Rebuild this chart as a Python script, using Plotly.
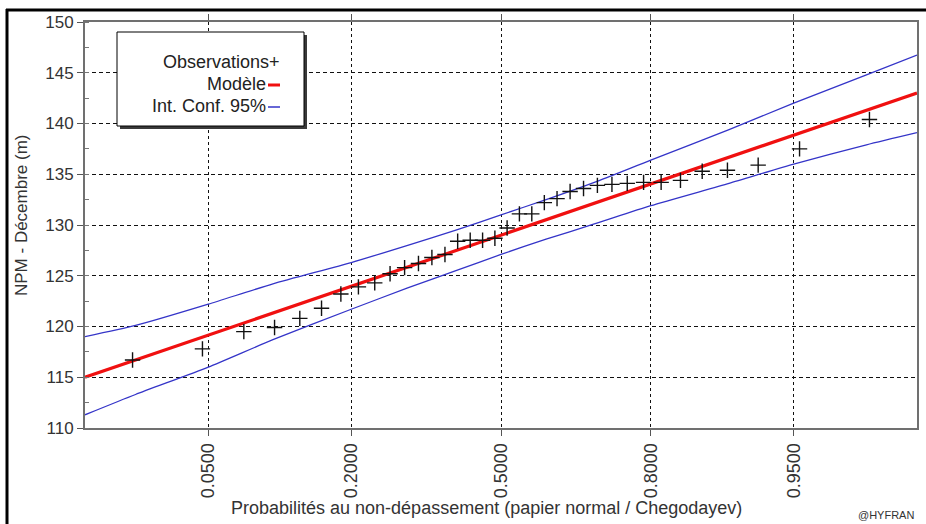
import plotly.graph_objects as go
from statistics import NormalDist

_nd = NormalDist()


def probit(p):
    return _nd.inv_cdf(p)


# ---------------- data ----------------
obs_prob = [0.0192, 0.0467, 0.0742, 0.1016, 0.1291, 0.1566, 0.1841, 0.2115, 0.2390,
            0.2665, 0.2940, 0.3214, 0.3489, 0.3764, 0.4038, 0.4313, 0.4588, 0.4863,
            0.5137, 0.5412, 0.5687, 0.5962, 0.6236, 0.6511, 0.6786, 0.7060, 0.7335,
            0.7610, 0.7885, 0.8159, 0.8434, 0.8709, 0.8984, 0.9258, 0.9533, 0.9808]
obs_npm = [116.7, 117.8, 119.5, 119.9, 120.8, 121.8, 123.2, 123.9, 124.3,
           125.2, 125.8, 126.2, 126.8, 127.1, 128.4, 128.5, 128.5, 128.7,
           129.7, 131.1, 131.1, 132.2, 132.6, 133.3, 133.6, 133.9, 134.0,
           134.1, 134.2, 134.2, 134.4, 135.3, 135.4, 135.9, 137.5, 140.4]

model_prob = [0.0097, 0.5, 0.9903]
model_npm = [115.0, 129.0, 143.0]

ci_prob = [0.0097, 0.02, 0.05, 0.1, 0.2, 0.3, 0.4, 0.5, 0.6, 0.7, 0.8, 0.9, 0.95, 0.98, 0.9903]
ci_upper = [119.0, 120.1, 122.2, 124.2, 126.3, 128.0, 129.5, 131.0, 132.5, 134.2, 136.4, 139.4, 142.0, 144.8, 146.75]
ci_lower = [111.3, 113.3, 116.0, 118.7, 121.7, 123.8, 125.5, 127.1, 128.6, 130.1, 131.9, 134.1, 136.0, 137.9, 139.1]

tick_prob = [0.05, 0.2, 0.5, 0.8, 0.95]
tick_text = ["0.0500", "0.2000", "0.5000", "0.8000", "0.9500"]
x_range_prob = [0.0097, 0.9903]
y_range = [110, 150]

legend_labels = ["Observations+", "Modèle", "Int. Conf. 95%"]
x_title = "Probabilités au non-dépassement (papier normal / Chegodayev)"
y_title = "NPM - Décembre (m)"
credit = "@HYFRAN"

# ---------------- layout geometry ----------------
W, H = 926, 524
L, R, T, B = 85, 917, 22, 428
FONT = "Liberation Sans, Arial, sans-serif"
RED = "#f01010"
BLUE = "#3434c8"


def px(x):
    return (x - L) / (R - L)


def py(y):
    return (B - y) / (B - T)


fig = go.Figure()

fig.add_trace(go.Scatter(x=[probit(p) for p in ci_prob], y=ci_upper, mode="lines",
                         line=dict(color=BLUE, width=1.3, shape="spline", smoothing=0.6),
                         hoverinfo="skip", showlegend=False))
fig.add_trace(go.Scatter(x=[probit(p) for p in ci_prob], y=ci_lower, mode="lines",
                         line=dict(color=BLUE, width=1.3, shape="spline", smoothing=0.6),
                         hoverinfo="skip", showlegend=False))
fig.add_trace(go.Scatter(x=[probit(p) for p in model_prob], y=model_npm, mode="lines",
                         line=dict(color=RED, width=3.2), showlegend=False))
fig.add_trace(go.Scatter(x=[probit(p) for p in obs_prob], y=obs_npm, mode="markers",
                         marker=dict(symbol="cross-thin", size=11,
                                     line=dict(width=1.4, color="#111111")),
                         showlegend=False))

fig.update_xaxes(range=[probit(x_range_prob[0]), probit(x_range_prob[1])],
                 tickmode="array", tickvals=[probit(p) for p in tick_prob], ticktext=tick_text,
                 tickangle=-90, tickfont=dict(family=FONT, size=18, color="#333333"),
                 ticks="outside", ticklen=6, tickcolor="#555555",
                 showline=True, linecolor="#707070", linewidth=2, mirror="ticks",
                 showgrid=True, gridcolor="#111111", gridwidth=1, griddash="3px,3px",
                 zeroline=False, automargin=False)
fig.update_yaxes(range=y_range, tickmode="linear", tick0=110, dtick=5,
                 tickfont=dict(family=FONT, size=17, color="#333333"),
                 ticks="outside", ticklen=6, tickcolor="#555555",
                 minor=dict(dtick=2.5, ticks="inside", ticklen=4, tickcolor="#777777", showgrid=False),
                 showline=True, linecolor="#707070", linewidth=2, mirror=True,
                 showgrid=True, gridcolor="#111111", gridwidth=1, griddash="4px,3px",
                 zeroline=False, automargin=False)

shapes = [
    # frame of the window (top and left)
    dict(type="line", xref="paper", yref="paper", x0=px(6), x1=px(W + 5), y0=py(10), y1=py(10),
         line=dict(color="black", width=3), layer="above"),
    dict(type="line", xref="paper", yref="paper", x0=px(7), x1=px(7), y0=py(9), y1=py(H + 5),
         line=dict(color="black", width=3), layer="above"),
    # legend box with shadow
    dict(type="rect", xref="paper", yref="paper", x0=px(120), x1=px(307), y0=py(35), y1=py(129),
         fillcolor="#3a3a3a", line=dict(width=0), layer="above"),
    dict(type="rect", xref="paper", yref="paper", x0=px(117), x1=px(304), y0=py(32), y1=py(126),
         fillcolor="white", line=dict(color="black", width=1), layer="above"),
    dict(type="line", xref="paper", yref="paper", x0=px(268), x1=px(280), y0=py(85), y1=py(85),
         line=dict(color=RED, width=3), layer="above"),
    dict(type="line", xref="paper", yref="paper", x0=px(268), x1=px(280), y0=py(107), y1=py(107),
         line=dict(color=BLUE, width=1.5), layer="above"),
]

annotations = [
    dict(text=legend_labels[0], x=px(282), y=py(62), xref="paper", yref="paper",
         xanchor="right", yanchor="middle", showarrow=False,
         font=dict(family=FONT, size=18, color="#222222")),
    dict(text=legend_labels[1], x=px(268), y=py(84), xref="paper", yref="paper",
         xanchor="right", yanchor="middle", showarrow=False,
         font=dict(family=FONT, size=18, color="#222222")),
    dict(text=legend_labels[2], x=px(268), y=py(106), xref="paper", yref="paper",
         xanchor="right", yanchor="middle", showarrow=False,
         font=dict(family=FONT, size=18, color="#222222")),
    dict(text=x_title, x=px(486), y=py(508), xref="paper", yref="paper",
         xanchor="center", yanchor="middle", showarrow=False,
         font=dict(family=FONT, size=18, color="#333333")),
    dict(text=y_title, x=px(21), y=py(215), xref="paper", yref="paper", textangle=-90,
         xanchor="center", yanchor="middle", showarrow=False,
         font=dict(family=FONT, size=17, color="#333333")),
    dict(text=credit, x=px(886), y=py(523), xref="paper", yref="paper",
         xanchor="center", yanchor="bottom", showarrow=False,
         font=dict(family=FONT, size=11, color="#333333")),
]

fig.update_layout(width=W, height=H,
                  margin=dict(l=L, r=W - R, t=T, b=H - B, pad=0),
                  paper_bgcolor="white", plot_bgcolor="white",
                  shapes=shapes, annotations=annotations, showlegend=False)

fig.write_html("out.html")
